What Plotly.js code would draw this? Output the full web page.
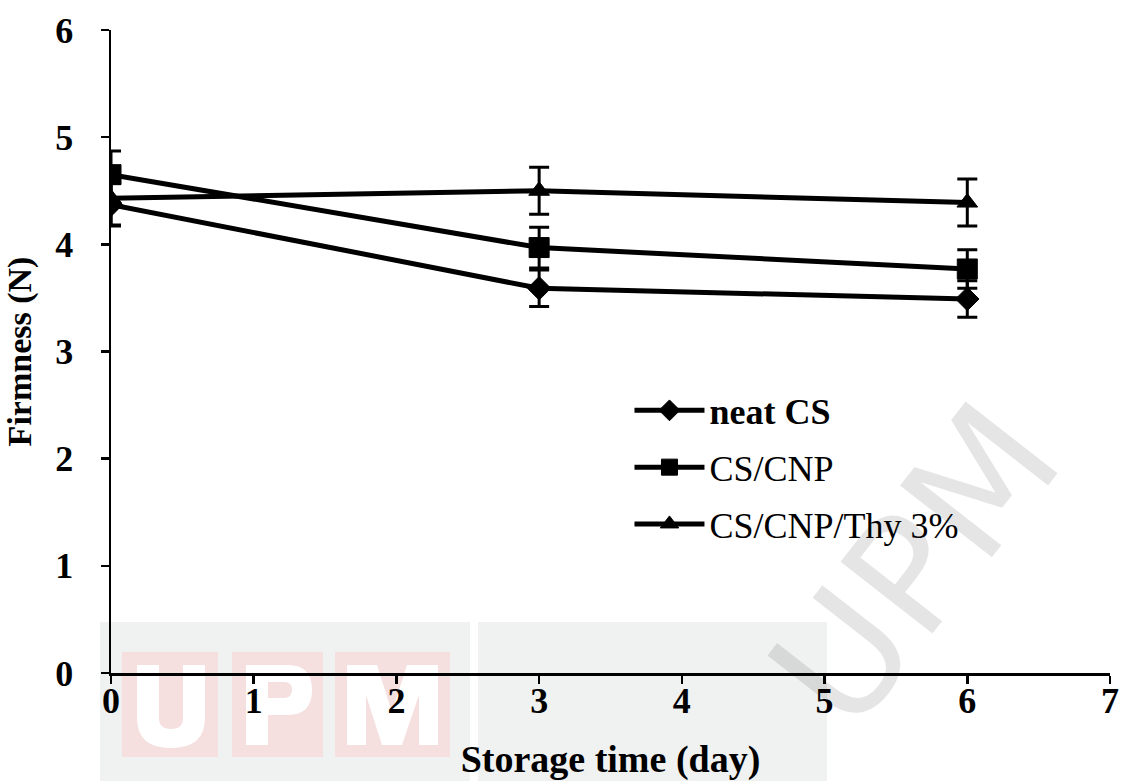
<!DOCTYPE html>
<html>
<head>
<meta charset="utf-8">
<script src="https://cdn.plot.ly/plotly-3.0.1.min.js"></script>
<style>html,body{margin:0;padding:0;background:#fff;}#chart{width:1137px;height:781px;}</style>
</head>
<body>
<div id="chart"></div>
<script>
var days = [0, 3, 6];
var seriesNames = ['neat CS', 'CS/CNP', 'CS/CNP/Thy 3%'];
var neatCS = [4.37, 3.59, 3.49];
var neatCSErr = [0.20, 0.17, 0.17];
var csCNP = [4.65, 3.97, 3.77];
var csCNPErr = [0.22, 0.19, 0.18];
var csCNPThy = [4.43, 4.50, 4.39];
var csCNPThyErr = [0.25, 0.22, 0.22];
var xTicks = [0, 1, 2, 3, 4, 5, 6, 7];
var yTicks = [0, 1, 2, 3, 4, 5, 6];

var serif = '"Liberation Serif", "Times New Roman", serif';

function mk(name, y, err, symbol, size, group) {
  return {
    x: days, y: y, type: 'scatter', mode: 'lines+markers', name: name,
    legendgroup: group,
    line: {color: '#000', width: 5},
    marker: {symbol: symbol, size: size, color: '#000', line: {color: '#000', width: 1}},
    error_y: {type: 'data', array: err, visible: true, color: '#000', thickness: 3, width: 10}
  };
}

var traces = [
  mk('<b>' + seriesNames[0] + '</b>', neatCS, neatCSErr, 'diamond', 18, 'a'),
  mk(seriesNames[1], csCNP, csCNPErr, 'square', 20, 'b'),
  mk(seriesNames[2], csCNPThy, csCNPThyErr, 'triangle-up', 18, 'c')
];

// watermark decoration (scan artifact), drawn in pixel space and converted to paper space
var L = 111, T = 30, W = 999, H = 643;
function px(x) { return ((x - L) / W).toFixed(5); }
function py(y) { return ((T + H - y) / H).toFixed(5); }
function pathPx(cmds) {
  return cmds.map(function (c) {
    if (typeof c === 'string') return c;
    var out = [];
    for (var i = 0; i < c.length; i += 2) out.push(px(c[i]) + ',' + py(c[i + 1]));
    return out.join(' ');
  }).join(' ');
}
function rectPx(x0, y0, x1, y1, col) {
  return {type: 'rect', xref: 'paper', yref: 'paper', layer: 'below',
    x0: px(x0), x1: px(x1), y0: py(y0), y1: py(y1), fillcolor: col, line: {width: 0}};
}
function shapePx(cmds, col) {
  return {type: 'path', xref: 'paper', yref: 'paper', layer: 'below',
    path: pathPx(cmds), fillcolor: col, line: {width: 0}};
}
var gray = '#f0f1f1', pink = '#f6dfdf', white = '#ffffff';
var shapes = [
  rectPx(100, 622, 470, 790, gray),
  rectPx(478, 622, 827, 790, gray),
  rectPx(122, 652, 218, 757, pink),
  rectPx(232, 652, 323, 757, pink),
  rectPx(335, 652, 450, 757, pink),
  shapePx(['M', [137, 665], 'L', [159, 665], 'L', [159, 718], 'Q', [159, 729, 171, 729], 'Q', [183, 729, 183, 718],
           'L', [183, 665], 'L', [205, 665], 'L', [205, 718], 'Q', [205, 748, 171, 748], 'Q', [137, 748, 137, 718], 'Z'], white),
  shapePx(['M', [246, 665], 'L', [288, 665], 'Q', [312, 665, 312, 690], 'Q', [312, 715, 288, 715], 'L', [268, 715],
           'L', [268, 745], 'L', [246, 745], 'Z'], white),
  shapePx(['M', [268, 682], 'L', [284, 682], 'Q', [292, 682, 292, 690], 'Q', [292, 698, 284, 698], 'L', [268, 698], 'Z'], pink),
  shapePx(['M', [347, 745], 'L', [347, 665], 'L', [377, 665], 'L', [392, 712], 'L', [407, 665], 'L', [438, 665],
           'L', [438, 745], 'L', [419, 745], 'L', [419, 695], 'L', [402, 745], 'L', [382, 745], 'L', [366, 695],
           'L', [366, 745], 'Z'], white)
];

var layout = {
  width: 1137, height: 781,
  margin: {l: L, r: 1137 - L - W, t: T, b: 781 - T - H},
  paper_bgcolor: '#fff', plot_bgcolor: 'rgba(0,0,0,0)',
  font: {family: serif, color: '#000'},
  showlegend: true,
  legend: {
    x: 0.519, y: 0.455, xanchor: 'left', yanchor: 'top',
    bgcolor: 'rgba(0,0,0,0)', borderwidth: 0,
    font: {family: serif, size: 36, color: '#000'},
    traceorder: 'grouped', tracegroupgap: 7, itemwidth: 70
  },
  xaxis: {
    range: [0, 7], tickvals: xTicks, ticktext: xTicks.map(function(v){return '<b>'+v+'</b>';}),
    showline: true, linecolor: '#000', linewidth: 2.5,
    ticks: 'outside', ticklen: 8, tickwidth: 2.5, tickcolor: '#000',
    showgrid: false, zeroline: false, ticklabelstandoff: -14,
    tickfont: {family: serif, size: 36, color: '#000'},
    title: {text: '<b>Storage time (day)</b>', font: {family: serif, size: 38, color: '#000'}, standoff: 26}
  },
  yaxis: {
    range: [0, 6], tickvals: yTicks, ticktext: yTicks.map(function(v){return '<b>'+v+'</b>';}),
    showline: true, linecolor: '#000', linewidth: 2.5,
    ticks: 'outside', ticklen: 8, tickwidth: 2.5, tickcolor: '#000',
    showgrid: false, zeroline: false, ticklabelstandoff: 20,
    tickfont: {family: serif, size: 36, color: '#000'},
    title: {text: '<b>Firmness (N)</b>', font: {family: serif, size: 34, color: '#000'}, standoff: 14}
  },
  shapes: shapes,
  annotations: [
    {xref: 'paper', yref: 'paper', x: px(915), y: py(565), xanchor: 'center', yanchor: 'middle',
     text: 'UPM', showarrow: false, textangle: -52,
     font: {family: 'DejaVu Sans', size: 160, color: 'rgba(0,0,0,0.1)'}}
  ]
};

Plotly.newPlot('chart', traces, layout, {displayModeBar: false, staticPlot: true});
</script>
</body>
</html>
